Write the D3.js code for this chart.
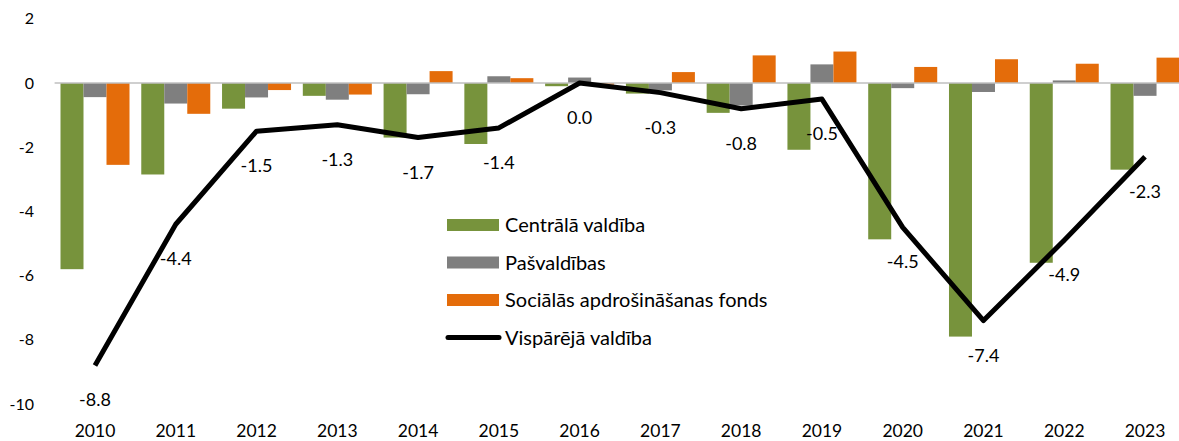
<!DOCTYPE html>
<html>
<head>
<meta charset="utf-8">
<script src="https://cdn.jsdelivr.net/npm/d3@7"></script>
<style>
  html, body { margin: 0; padding: 0; background: #fff; }
  svg { display: block; }
  text { font-family: "Lato", "Open Sans", sans-serif; fill: #000; }
</style>
</head>
<body>
<svg id="chart" width="1179" height="441"></svg>
<script>
// Budget balance by sector, % of GDP
const years = ["2010","2011","2012","2013","2014","2015","2016","2017","2018","2019","2020","2021","2022","2023"];
const seriesNames = ["Centrālā valdība", "Pašvaldības", "Sociālās apdrošināšanas fonds"];
const lineName = "Vispārējā valdība";

const centralGov = [-5.8, -2.85, -0.8, -0.4, -1.7, -1.9, -0.1, -0.33, -0.93, -2.08, -4.87, -7.9, -5.6, -2.7];
const localGov   = [-0.44, -0.64, -0.45, -0.52, -0.35, 0.21, 0.17, -0.23, -0.7, 0.58, -0.16, -0.28, 0.08, -0.4];
const socialFund = [-2.55, -0.96, -0.22, -0.36, 0.37, 0.15, -0.05, 0.34, 0.86, 0.98, 0.5, 0.74, 0.6, 0.79];
const generalGov = [-8.8, -4.4, -1.5, -1.3, -1.7, -1.4, 0.0, -0.3, -0.8, -0.5, -4.5, -7.4, -4.9, -2.3];

const yTicks = [2, 0, -2, -4, -6, -8, -10];
const colors = ["#77933c", "#7f7f7f", "#e46c0a"];

const svg = d3.select("#chart");

const x = d3.scaleBand().domain(years).range([54.6, 1185.4]).padding(0);
const x1 = d3.scaleBand().domain(seriesNames).range([5.9, 74.9]).padding(0);
const y = d3.scaleLinear().domain([-10, 2]).range([404, 18.8]);

// y axis labels (no line, no ticks)
const yAxis = d3.axisLeft(y).tickValues(yTicks).tickSize(0).tickPadding(0)
  .tickFormat(d => d3.format("d")(d).replace("−", "-"));
const gy = svg.append("g").attr("transform", "translate(34,0)").call(yAxis);
gy.select(".domain").remove();
gy.selectAll("text").style("font-size", "16px").style("font-family", "Lato, sans-serif").attr("fill", "#000");

// x axis labels
const xAxis = d3.axisBottom(x).tickSize(0).tickPadding(0);
const gx = svg.append("g").attr("transform", "translate(0,425)").call(xAxis);
gx.select(".domain").remove();
gx.selectAll("text").style("font-size", "17.5px").style("font-family", "Lato, sans-serif").attr("fill", "#000");

// bars
const barData = [centralGov, localGov, socialFund];
const groups = svg.append("g").selectAll("g")
  .data(years)
  .join("g")
  .attr("transform", d => `translate(${x(d)},0)`);

groups.selectAll("rect")
  .data((d, i) => seriesNames.map((s, k) => ({ s, v: barData[k][i], k })))
  .join("rect")
  .attr("x", d => x1(d.s))
  .attr("width", x1.bandwidth())
  .attr("y", d => y(Math.max(0, d.v)))
  .attr("height", d => Math.abs(y(d.v) - y(0)))
  .attr("fill", d => colors[d.k]);

// zero line
svg.append("line")
  .attr("x1", 54.6).attr("x2", 1179)
  .attr("y1", y(0)).attr("y2", y(0))
  .attr("stroke", "#bfbfbf").attr("stroke-width", 1.5);

// general government line
const cx = d => x(d) + x.bandwidth() / 2;
const line = d3.line().x((d, i) => cx(years[i])).y(d => y(d));
svg.append("path")
  .datum(generalGov)
  .attr("d", line)
  .attr("fill", "none")
  .attr("stroke", "#000")
  .attr("stroke-width", 5)
  .attr("stroke-linejoin", "round");

// value labels below the line points
svg.append("g").selectAll("text")
  .data(generalGov)
  .join("text")
  .attr("x", (d, i) => cx(years[i]))
  .attr("y", d => y(d) + 41)
  .attr("text-anchor", "middle")
  .style("font-size", "18px")
  .text(d => d3.format(".1f")(d).replace("−", "-"));

// legend
const legend = svg.append("g");
const rowY = [225, 262.5, 300, 337.5];
seriesNames.forEach((name, i) => {
  legend.append("rect")
    .attr("x", 447).attr("y", rowY[i] - 6)
    .attr("width", 52).attr("height", 12)
    .attr("fill", colors[i]);
  legend.append("text")
    .attr("x", 505).attr("y", rowY[i] + 7)
    .style("font-size", "20px")
    .text(name);
});
legend.append("line")
  .attr("x1", 448).attr("x2", 499)
  .attr("y1", rowY[3]).attr("y2", rowY[3])
  .attr("stroke", "#000").attr("stroke-width", 5).attr("stroke-linecap", "round");
legend.append("text")
  .attr("x", 505).attr("y", rowY[3] + 7)
  .style("font-size", "20px")
  .text(lineName);
</script>
</body>
</html>
